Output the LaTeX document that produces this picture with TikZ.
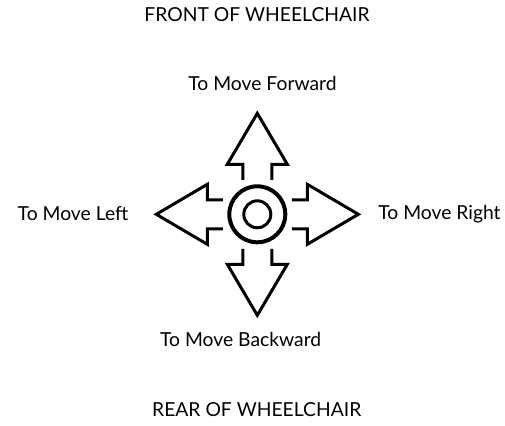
\documentclass[tikz,border=0pt]{standalone}
\usepackage{fontspec}
\setmainfont{Lato}
\begin{document}
\begin{tikzpicture}[x=1pt,y=-1pt,
  lbl/.style={inner sep=0pt,font=\fontsize{19.3}{21}\selectfont},
  arr/.style={line width=3pt,line join=miter,miter limit=10}]
\useasboundingbox (0,0) rectangle (505,425);
\coordinate (c) at (257.3,214.3);
\node[lbl] (front) at (257,15) {FRONT OF WHEELCHAIR};
\node[lbl] (fwd) at (262.5,83) {To Move Forward};
\node[lbl] (back) at (240.7,339) {To Move Backward};
\node[lbl] (rear) at (256.7,410) {REAR OF WHEELCHAIR};
\node[lbl] (left) at (73,214) {To Move Left};
\node[lbl] (right) at (439.5,214) {To Move Right};
\draw[line width=4pt] (c) circle[radius=28];
\draw[line width=3pt] (c) circle[radius=13.5];
\foreach \a in {0,90,180,270}{
  \draw[arr,rotate around={\a:(c)}] ([shift={(-14.5,-34.5)}]c) -- ([shift={(-14.5,-50)}]c) -- ([shift={(-30,-50)}]c) -- ([shift={(0,-101)}]c) -- ([shift={(30,-50)}]c) -- ([shift={(14.5,-50)}]c) -- ([shift={(14.5,-34.5)}]c);
}
\end{tikzpicture}
\end{document}
